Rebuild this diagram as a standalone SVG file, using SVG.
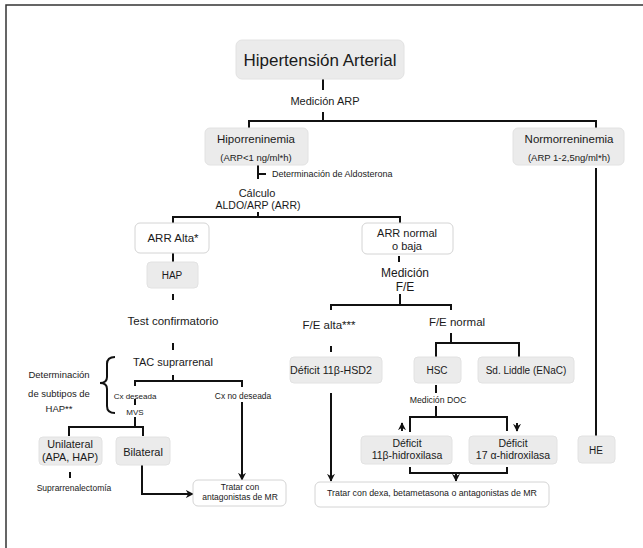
<svg xmlns="http://www.w3.org/2000/svg" width="643" height="548" viewBox="0 0 643 548">
<style>
text{font-family:"Liberation Sans",Arial,sans-serif;fill:#1a1a1a;text-anchor:middle;dominant-baseline:central}
.g{fill:#ebebeb;stroke:#e2e2e2;stroke-width:1}
.w{fill:#ffffff;stroke:#d4d4d4;stroke-width:1}
.c{fill:none;stroke:#111;stroke-width:2}
</style>
<defs>
<marker id="ah" viewBox="0 0 10 10" refX="9" refY="5" markerWidth="4" markerHeight="4" orient="auto" markerUnits="strokeWidth">
<path d="M0,0 L10,5 L0,10 L3,5 Z" fill="#111"/>
</marker>
</defs>
<rect x="6" y="5" width="700" height="600" fill="none" stroke="#333" stroke-width="1.5"/>

<g id="connectors">
<path class="c" d="M323,79 V90"/>
<path class="c" d="M323,112 V121 M249,128 V121 H596 V128"/>
<path class="c" d="M596,168 V436"/>
<path class="c" d="M258,165 V179 M258,174 H266"/>
<path class="c" d="M258,212 V217 M173,223 V217 H400 V223"/>
<path class="c" d="M173,253 V262"/>
<path class="c" d="M173,294 V300"/>
<path class="c" d="M173,343 V350"/>
<path class="c" d="M399,256 V262"/>
<path class="c" d="M400,294 V305 M331,310 V305 H451 V310"/>
<path class="c" d="M331,346 V352"/>
<path class="c" d="M331,393 V481" marker-end="url(#ah)"/>
<path class="c" d="M451,333 V343 M436,357 V343 H519 V357"/>
<path class="c" d="M436,385 V393"/>
<path class="c" d="M436,406 V417 M410,432 V417 H507 V431"/>
<path class="c" d="M410,467 V473 H507 V467"/>
<path class="c" d="M456,473 V481" marker-end="url(#ah)"/>
<path class="c" d="M173,375 V381 M135,386 V381 H242 V387"/>
<path class="c" d="M135,399 V405"/>
<path class="c" d="M242,402 V480" marker-end="url(#ah)"/>
<path class="c" d="M135,417 V427 M69,436 V427 H143 V436"/>
<path class="c" d="M70,472 V478"/>
<path class="c" d="M142,465 V494 H193" marker-end="url(#ah)"/>
<path class="c" d="M115,357 Q107,357 107,364 L107,377 Q107,383 100,383 Q107,383 107,389 L107,406 Q107,413 115,413"/>
</g>

<g id="n-hta"><rect class="g" x="236" y="40" width="168" height="39" rx="6"/><text x="320" y="60" font-size="17">Hipertensión Arterial</text></g>
<g id="l-medarp"><text x="325" y="101" font-size="11">Medición ARP</text></g>
<g id="n-hipo"><rect class="g" x="205" y="128" width="103" height="37" rx="5"/><text x="256" y="139" font-size="11.5">Hiporreninemia</text><text x="256" y="157" font-size="9.5">(ARP&lt;1 ng/ml*h)</text></g>
<g id="n-normo"><rect class="g" x="513" y="128" width="111" height="37" rx="5"/><text x="569" y="139" font-size="11.5">Normorreninemia</text><text x="569" y="157" font-size="9.5">(ARP 1-2,5ng/ml*h)</text></g>
<g id="l-aldo"><text x="272" y="174" font-size="9" style="text-anchor:start">Determinación de Aldosterona</text></g>
<g id="l-calc"><text x="257" y="193" font-size="11">Cálculo</text><text x="258" y="205" font-size="10.5">ALDO/ARP (ARR)</text></g>
<g id="n-arralta"><rect class="w" x="135" y="223" width="74" height="30" rx="5"/><text x="173" y="238" font-size="11.5">ARR Alta*</text></g>
<g id="n-hap"><rect class="g" x="147" y="262" width="51" height="26" rx="4"/><text x="172" y="275" font-size="10">HAP</text></g>
<g id="l-test"><text x="173" y="321" font-size="11.5">Test confirmatorio</text></g>
<g id="n-arrnormal"><rect class="w" x="362" y="223" width="91" height="31" rx="5"/><text x="407" y="233" font-size="11">ARR normal</text><text x="407" y="246" font-size="11">o baja</text></g>
<g id="l-medfe"><text x="405" y="273" font-size="12">Medición</text><text x="405" y="287" font-size="12">F/E</text></g>
<g id="l-fealta"><text x="329" y="325" font-size="11.5">F/E alta***</text></g>
<g id="l-fenormal"><text x="457" y="322" font-size="11.5">F/E normal</text></g>
<g id="n-hsd2"><rect class="g" x="290" y="357" width="92" height="26" rx="4"/><text x="331" y="370" font-size="10.7">Déficit 11β-HSD2</text></g>
<g id="n-hsc"><rect class="g" x="414" y="357" width="47" height="26" rx="4"/><text x="437" y="370" font-size="10">HSC</text></g>
<g id="n-liddle"><rect class="g" x="478" y="357" width="96" height="26" rx="4"/><text x="526" y="370" font-size="10">Sd. Liddle (ENaC)</text></g>
<g id="l-doc"><text x="438" y="400" font-size="8.7">Medición DOC</text></g>
<g id="l-up"><path class="c" d="M402,431 V423" marker-end="url(#ah)"/></g>
<g id="l-down"><path class="c" d="M517,423 V431" marker-end="url(#ah)"/></g>
<g id="n-11b"><rect class="g" x="361" y="436" width="91" height="28" rx="4"/><text x="407" y="443" font-size="10.5">Déficit</text><text x="407" y="455" font-size="10.5">11β-hidroxilasa</text></g>
<g id="n-17a"><rect class="g" x="469" y="436" width="88" height="28" rx="4"/><text x="513" y="443" font-size="10.5">Déficit</text><text x="513" y="455" font-size="10.5">17 α-hidroxilasa</text></g>
<g id="n-he"><rect class="g" x="578" y="436" width="37" height="27" rx="4"/><text x="596" y="450" font-size="10">HE</text></g>
<g id="n-dexa"><rect class="w" x="315" y="482" width="234" height="25" rx="5"/><text x="432" y="493" font-size="8.8">Tratar con dexa, betametasona o antagonistas de MR</text></g>
<g id="n-tac"><text x="173" y="362" font-size="11">TAC suprarrenal</text></g>
<g id="l-cxdes"><text x="135" y="396" font-size="8">Cx deseada</text></g>
<g id="l-cxno"><text x="243" y="396" font-size="8.4">Cx no deseada</text></g>
<g id="l-mvs"><text x="135" y="412" font-size="8">MVS</text></g>
<g id="l-subtipos"><text x="59" y="374" font-size="9.5">Determinación</text><text x="59" y="393" font-size="9.5">de subtipos de</text><text x="59" y="408" font-size="9.5">HAP**</text></g>
<g id="n-uni"><rect class="g" x="39" y="437" width="63" height="28" rx="4"/><text x="70" y="444" font-size="10.8">Unilateral</text><text x="70" y="457" font-size="10.8">(APA, HAP)</text></g>
<g id="n-bil"><rect class="g" x="116" y="437" width="54" height="28" rx="4"/><text x="143" y="452" font-size="11">Bilateral</text></g>
<g id="l-supra"><text x="74" y="488" font-size="8.5">Suprarrenalectomía</text></g>
<g id="n-mr"><rect class="w" x="193" y="480" width="93" height="26" rx="5"/><text x="240" y="487" font-size="8.5">Tratar con</text><text x="240" y="497" font-size="8.5">antagonistas de MR</text></g>
</svg>
